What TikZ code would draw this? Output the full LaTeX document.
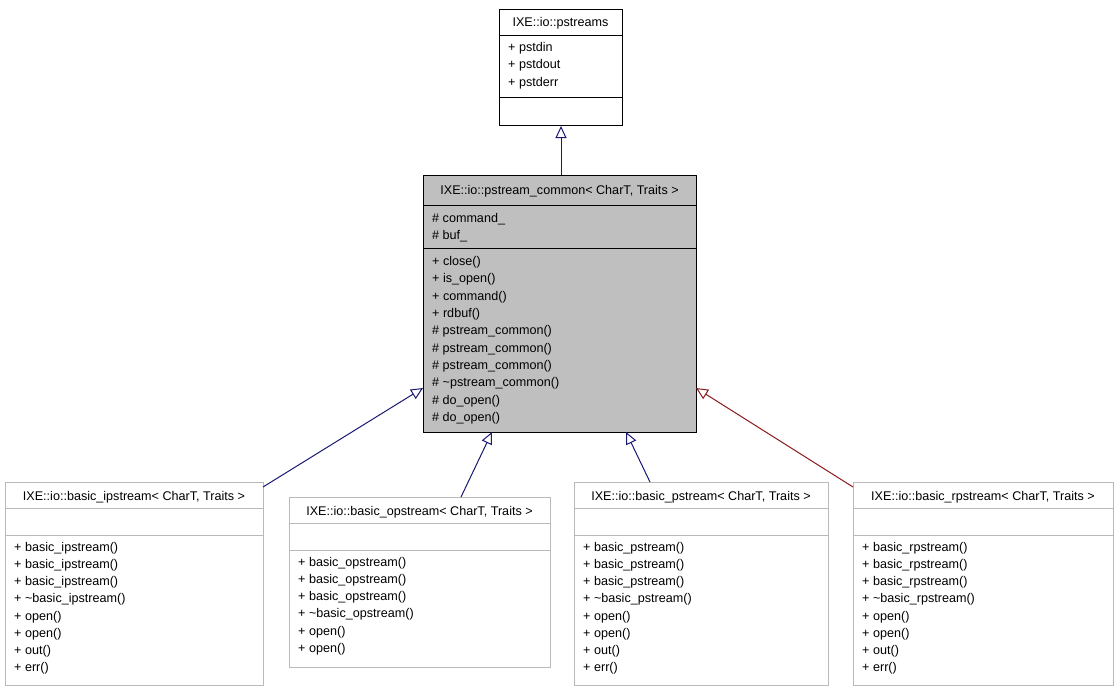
\documentclass[tikz,border=0pt]{standalone}
\usepackage{fontspec}
\setmainfont{Liberation Sans}
\usetikzlibrary{arrows.meta}
\begin{document}
\begin{tikzpicture}[x=1pt,y=-1pt,
  txt/.style={anchor=base west,inner sep=0pt,font=\fontsize{12.6}{14}\selectfont},
  ttl/.style={anchor=base,inner sep=0pt,font=\fontsize{12.6}{14}\selectfont},
  blk/.style={draw=black,line width=1pt,anchor=north west,inner sep=0pt},
  gry/.style={draw=gray!55,line width=1pt,anchor=north west,inner sep=0pt},
  inh/.style={draw=navy,line width=1pt,-{Triangle[open,length=12pt,width=11pt]}},
  inhr/.style={draw=darkred,line width=1pt,-{Triangle[open,length=12pt,width=11pt]}}]
\definecolor{navy}{HTML}{191970}
\definecolor{darkred}{HTML}{8B1A1A}
\useasboundingbox (0,0) rectangle (1117,691);
% pstreams
\node[blk,minimum width=123pt,minimum height=116pt] (ps) at (499,9) {};
\draw[line width=1pt] (499,35) -- (622,35) (499,97) -- (622,97);
\node[ttl] at (560.5,26) {IXE::io::pstreams};
\foreach \t [count=\i] in {pstdin,pstdout,pstderr}
  \node[txt] at (508,{35+17.4*\i-1}) {+ \t};
% common
\node[blk,fill=gray!50,minimum width=273pt,minimum height=257pt] (pc) at (423,175) {};
\draw[line width=1pt] (423,205) -- (696,205) (423,248) -- (696,248);
\node[ttl] at (559.5,194) {IXE::io::pstream\_common< CharT, Traits >};
\foreach \t [count=\i] in {command\_,buf\_}
  \node[txt] at (432,{205+17.4*\i}) {\# \t};
\foreach \s/\t [count=\i] in {+/close(),+/is\_open(),+/command(),+/rdbuf(),\#/pstream\_common(),\#/pstream\_common(),\#/pstream\_common(),\#/\textasciitilde pstream\_common(),\#/do\_open(),\#/do\_open()}
  \node[txt] at (432,{248+17.35*\i}) {\s{} \t};
% derived
\foreach \nm/\x/\w/\y/\h/\n/\lbl in {
  ip/5/258/482/203/8/ipstream,
  op/289/261/497/170/6/opstream,
  pp/574/254/482/203/8/pstream,
  rp/853/260/482/203/8/rpstream}{
  \node[gry,minimum width=\w pt,minimum height=\h pt] (\nm) at (\x,\y) {};
  \draw[gray!55,line width=1pt] (\x,\y+26) -- ++(\w,0) (\x,\y+53) -- ++(\w,0);
  \node[ttl] at (\x+\w/2,\y+18) {IXE::io::basic\_\lbl< CharT, Traits >};
  \foreach \t [count=\i] in {basic\_\lbl(),basic\_\lbl(),basic\_\lbl(),\textasciitilde basic\_\lbl(),open(),open(),out(),err()}
    {\ifnum\i>\n\else\node[txt] at (\x+9,{\y+53+17.2*\i-1}) {+ \t};\fi}
}
\coordinate (a1) at (263,487);
\coordinate (a2) at (461,497);
\coordinate (a3) at (650,482);
\coordinate (a4) at (853,487);
\draw[inh] (pc.north -| ps.south) -- (ps.south);
\draw[inh] (a1) -- (423,388);
\draw[inh] (a2) -- (492,432);
\draw[inh] (a3) -- (626,432);
\draw[inhr] (a4) -- (696,388);
\end{tikzpicture}
\end{document}
